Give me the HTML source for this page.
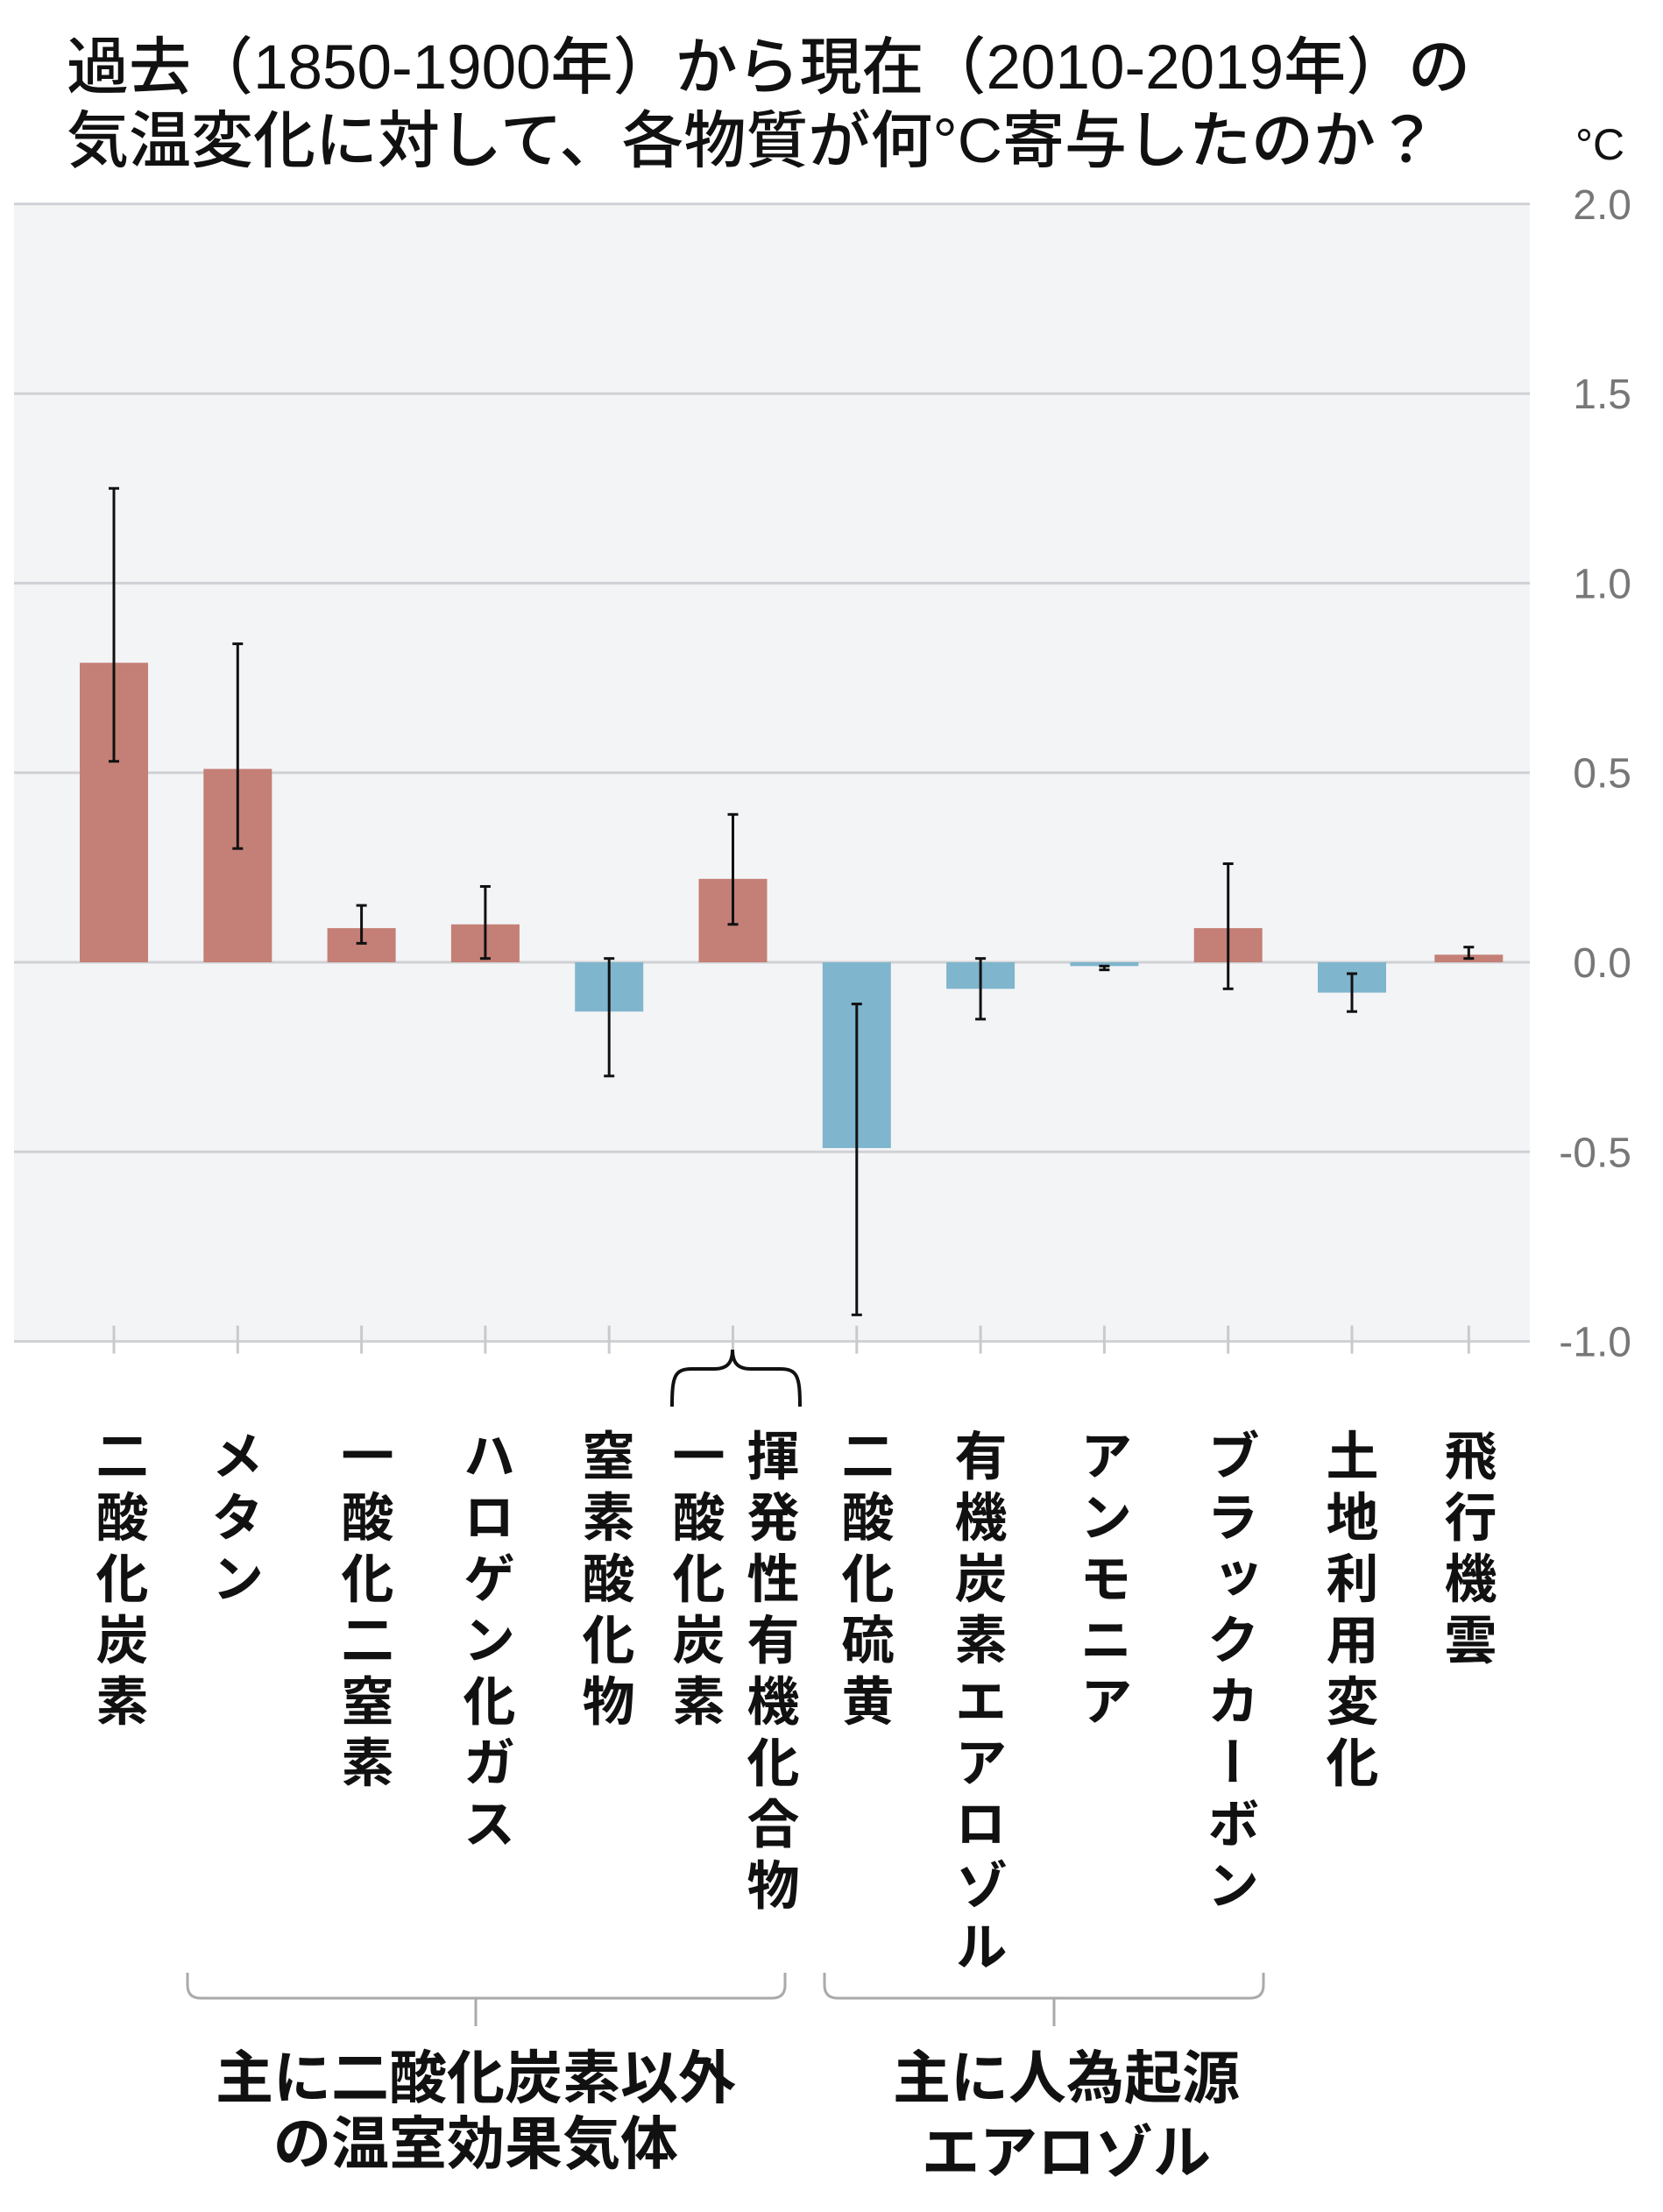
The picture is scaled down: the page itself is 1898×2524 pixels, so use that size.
<!DOCTYPE html>
<html><head><meta charset="utf-8">
<style>
body{margin:0;background:#fff;}
#wrap{position:relative;width:1898px;height:2524px;overflow:hidden;background:#fff;font-family:"Liberation Sans","Noto Sans CJK JP",sans-serif;}
.t{position:absolute;white-space:nowrap;color:#111;}
.v{position:absolute;writing-mode:vertical-rl;font-size:60px;font-weight:700;letter-spacing:10px;line-height:1;color:#111;font-family:"Noto Sans CJK JP",sans-serif;}
</style></head>
<body>
<div id="wrap">
<div class="t" style="left:76px;top:20px;font-size:71px;font-weight:500;">過去（1850-1900年）から現在（2010-2019年）の</div>
<div class="t" style="left:76px;top:104px;font-size:71px;font-weight:500;">気温変化に対して、各物質が何°C寄与したのか？</div>
<div class="t" style="left:1798px;top:136px;font-size:50px;">°C</div>
<svg id="chart" width="1898" height="2524" style="position:absolute;left:0;top:0"></svg>
</div>
<script>
const categories=["二酸化炭素","メタン","一酸化二窒素","ハロゲン化ガス","窒素酸化物","揮発性有機化合物・一酸化炭素","二酸化硫黄","有機炭素エアロゾル","アンモニア","ブラックカーボン","土地利用変化","飛行機雲"];
const values=[0.79,0.51,0.09,0.10,-0.13,0.22,-0.49,-0.07,-0.01,0.09,-0.08,0.02];
const errLow=[0.53,0.30,0.05,0.01,-0.30,0.10,-0.93,-0.15,-0.02,-0.07,-0.13,0.01];
const errHigh=[1.25,0.84,0.15,0.20,0.01,0.39,-0.11,0.01,-0.01,0.26,-0.03,0.04];
const ticks=[2.0,1.5,1.0,0.5,0.0,-0.5,-1.0];
const tickLabels=["2.0","1.5","1.0","0.5","0.0","-0.5","-1.0"];
const NS="http://www.w3.org/2000/svg";
const svg=document.getElementById('chart');
const y=v=>1098-v*432.6;
const x=i=>130+i*141.3;
function mk(t,a){const e=document.createElementNS(NS,t);for(const k in a)e.setAttribute(k,a[k]);svg.appendChild(e);return e;}
let bg=mk('rect',{x:16,y:y(2),width:1730,height:y(-1)-y(2),fill:'#f3f4f6'});


ticks.forEach((t,i)=>{
  const g=mk('line',{x1:16,x2:1746,y1:y(t),y2:y(t),stroke:'#cfd1d5','stroke-width':3});
  
  
  const l=mk('text',{x:1862,y:y(t)+17,'text-anchor':'end','font-size':48,fill:'#777','font-family':'Liberation Sans, sans-serif'});
  l.textContent=tickLabels[i];
  
  
});
categories.forEach((c,i)=>{
  const cx=i===11?x(i)-8:x(i);
  const tk=mk('line',{x1:cx,x2:cx,y1:y(-1)-18,y2:y(-1)+14,stroke:'#c8cacd','stroke-width':3});
  
  
  const v=values[i];
  const b=mk('rect',{x:cx-39,y:Math.min(y(0),y(v)),width:78,height:Math.abs(y(v)-y(0)),fill:v>=0?'#c47f76':'#7fb5cd'});
  
  
  const e=mk('line',{x1:cx,x2:cx,y1:y(errHigh[i]),y2:y(errLow[i]),stroke:'#111','stroke-width':3});
  
  
  [errHigh[i],errLow[i]].forEach(ev=>{
    const cap=mk('line',{x1:cx-6,x2:cx+6,y1:y(ev),y2:y(ev),stroke:'#111','stroke-width':3});
    
    
  });
});
const br=mk('path',{d:'M767,1605 C767,1570 770,1562 790,1562 L815,1562 C830,1562 836,1555 836,1540 C836,1555 842,1562 857,1562 L890,1562 C910,1562 913,1570 913,1605',fill:'none',stroke:'#111','stroke-width':4});


[[214,896,543],[941,1442,1203]].forEach((g,i)=>{
  const p=mk('path',{d:`M${g[0]},2251 L${g[0]},2265 Q${g[0]},2280 ${g[0]+15},2280 L${g[1]-15},2280 Q${g[1]},2280 ${g[1]},2265 L${g[1]},2251 M${g[2]},2280 L${g[2]},2312`,fill:'none',stroke:'#aaa','stroke-width':3});
  
  
});
const wrap=document.getElementById('wrap');
const labelCols=[["二酸化炭素",141],["メタン",273],["一酸化二窒素",421],["ハロゲン化ガス",560],["窒素酸化物",696],["一酸化炭素",799],["揮発性有機化合物",884],["二酸化硫黄",992],["有機炭素エアロゾル",1121],["アンモニア",1264],["ブラックカーボン",1409],["土地利用変化",1545],["飛行機雲",1680]];
labelCols.forEach(l=>{
  const d=document.createElement('div');
  d.className='v';
  d.textContent=l[0];
  d.style.left=(l[1]-32)+'px';
  d.style.top='1630px';
  
  
  wrap.appendChild(d);
});
const groups=[["主に二酸化炭素以外",543,2330],["の温室効果気体",543,2405],["主に人為起源",1217,2330],["エアロゾル",1217,2415]];
groups.forEach(g=>{
  const d=document.createElement('div');
  d.className='t';
  d.textContent=g[0];
  d.style.cssText+=`left:${g[1]-400}px;width:800px;text-align:center;top:${g[2]}px;font-size:66px;font-weight:600;font-family:"Noto Sans CJK JP",sans-serif;line-height:1.1;`;
  
  
  wrap.appendChild(d);
});
</script>
</body></html>
